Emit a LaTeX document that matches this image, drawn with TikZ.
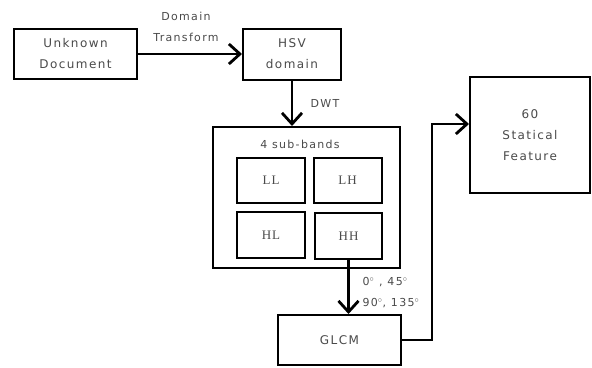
\documentclass[tikz,border=0pt]{standalone}
\usepackage{fontspec}
\setmainfont{DejaVu Sans}[LetterSpace=12]
\newfontfamily\bandfont{Liberation Serif}[LetterSpace=8]
\usetikzlibrary{arrows.meta}
\definecolor{txt}{HTML}{4A4A4A}
\tikzset{
  box/.style={draw=black, line width=2pt, fill=white, text=txt, align=center,
    font=\fontsize{12}{21}\selectfont, inner sep=0pt},
  band/.style={box, font=\bandfont\fontsize{13}{15}\selectfont},
  lbl/.style={text=txt, align=left, font=\fontsize{11}{21}\selectfont, inner sep=0pt},
  conn/.style={draw=black, line width=2.8pt, -{Straight Barb[length=11pt,width=20pt,line width=2.8pt]}},
}
\begin{document}
\begin{tikzpicture}[x=1pt,y=-1pt]
\useasboundingbox (0,0) rectangle (592,367);
\node[box, minimum width=123pt, minimum height=50pt] (unk) at (75.5,54) {Unknown\\Document};
\node[box, minimum width=98pt, minimum height=51pt] (hsv) at (292,54) {HSV\\domain};
\node[box, minimum width=187pt, minimum height=141pt] (outer) at (306.5,197.5) {};
\node[lbl] (sb) at (300,144) {4 sub-bands};
\node[band, minimum width=68pt, minimum height=45pt] (LL) at (271,180.5) {LL};
\node[band, minimum width=68pt, minimum height=45pt] (LH) at (347.5,180) {LH};
\node[band, minimum width=68pt, minimum height=46pt] (HL) at (271,235) {HL};
\node[band, minimum width=67pt, minimum height=46pt] (HH) at (348.5,236) {HH};
\node[box, minimum width=123pt, minimum height=50pt] (glcm) at (339.5,340) {GLCM};
\node[box, minimum width=120pt, minimum height=116pt] (feat) at (530,135) {60\\Statical\\Feature};
\node[lbl, align=center] (dt) at (186,26.5) {Domain\\Transform};
\node[lbl] (dwt) at (325,103) {DWT};
\node[lbl] (ang) at (391,292.5) {0$^\circ$ , 45$^\circ$\\90$^\circ$, 135$^\circ$};
\coordinate (bend) at (432,124);
\draw[conn] (unk.east) -- (hsv.west);
\draw[conn] (hsv.south) -- (outer.north -| hsv.south);
\draw[conn] (HH.south) -- (HH.south |- glcm.north);
\draw[conn] (glcm.east) -- (glcm.east -| bend) -- (bend) -- (bend -| feat.west);
\end{tikzpicture}
\end{document}
